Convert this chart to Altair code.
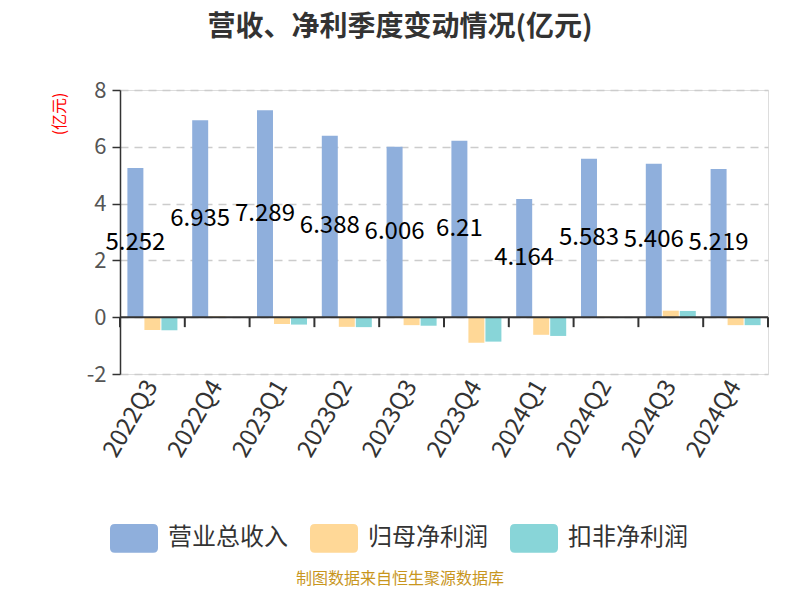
import altair as alt
import pandas as pd

quarters = ['2022Q3', '2022Q4', '2023Q1', '2023Q2', '2023Q3', '2023Q4',
            '2024Q1', '2024Q2', '2024Q3', '2024Q4']
revenue = [5.252, 6.935, 7.289, 6.388, 6.006, 6.21, 4.164, 5.583, 5.406, 5.219]
revenue_labels = ['5.252', '6.935', '7.289', '6.388', '6.006', '6.21', '4.164', '5.583', '5.406', '5.219']
net_profit = [-0.45, 0.03, -0.24, -0.34, -0.28, -0.90, -0.62, 0.02, 0.23, -0.28]
deducted_profit = [-0.46, -0.02, -0.26, -0.35, -0.30, -0.86, -0.66, -0.03, 0.22, -0.28]
series_names = ['营业总收入', '归母净利润', '扣非净利润']
series_colors = ['#8FAFDC', '#FFD897', '#88D5D8']

rows = []
for i, q in enumerate(quarters):
    rows.append({'quarter': q, 'series': series_names[0], 'value': revenue[i]})
    rows.append({'quarter': q, 'series': series_names[1], 'value': net_profit[i]})
    rows.append({'quarter': q, 'series': series_names[2], 'value': deducted_profit[i]})
df = pd.DataFrame(rows)

lab_df = pd.DataFrame({'quarter': quarters, 'series': series_names[0],
                       'value': revenue, 'label': revenue_labels})
lab_df['half'] = lab_df['value'] / 2

FONT = 'Noto Sans CJK SC'
W, H = 648, 284

xscale = alt.Scale(domain=quarters, paddingInner=0, paddingOuter=0)
xoff = alt.XOffset('series:N', sort=series_names,
                   scale=alt.Scale(domain=series_names, paddingInner=0.06, paddingOuter=0.435))
yscale = alt.Scale(domain=[-2, 8], nice=False)

rounded = ("M-0.8,-0.6 L0.8,-0.6 Q1,-0.6 1,-0.4 L1,0.4 Q1,0.6 0.8,0.6 "
           "L-0.8,0.6 Q-1,0.6 -1,0.4 L-1,-0.4 Q-1,-0.6 -0.8,-0.6 Z")

bars = alt.Chart(df).mark_bar().encode(
    x=alt.X('quarter:N', scale=xscale, sort=quarters,
            axis=alt.Axis(title=None, labelAngle=-60, labelAlign='right', labelBaseline='middle',
                          labelFontSize=24, labelColor='#333333', labelPadding=8,
                          domain=False, ticks=False, labelFont=FONT)),
    xOffset=xoff,
    y=alt.Y('value:Q', scale=yscale,
            axis=alt.Axis(title='(亿元)', values=[-2, 0, 2, 4, 6, 8], titleColor='red',
                          labelExpr="'' + datum.value",
                          titleFontSize=16, titleFontWeight='normal', titleAngle=-90,
                          titleAlign='right', titleBaseline='middle', titleX=-61, titleY=2,
                          labelFontSize=22, labelColor='#555555', labelPadding=6,
                          tickSize=8, tickColor='#333333', tickWidth=1.5,
                          domainColor='#333333', domainWidth=1.5,
                          grid=True, gridDash=[8, 6], gridColor='#cccccc', gridWidth=1.5,
                          labelFont=FONT, titleFont=FONT)),
    color=alt.Color('series:N', sort=series_names,
                    scale=alt.Scale(domain=series_names, range=series_colors),
                    legend=alt.Legend(title=None, orient='none', direction='horizontal',
                                      legendX=-10, legendY=424, symbolType=rounded,
                                      symbolSize=2304, symbolStrokeWidth=0, symbolOpacity=1,
                                      labelFontSize=24, labelColor='#333333', labelFont=FONT,
                                      labelOffset=10, columnPadding=22))
)

labels = alt.Chart(lab_df).mark_text(fontSize=24, color='#000000', font=FONT).encode(
    x=alt.X('quarter:N', scale=xscale, sort=quarters),
    xOffset=xoff,
    y=alt.Y('half:Q', scale=yscale),
    text='label:N'
)

zero_line = alt.Chart(pd.DataFrame({'q': [0]})).mark_rule(color='#333333', strokeWidth=2).encode(
    y=alt.datum(0), x=alt.value(0), x2=alt.value(W)
)

ticks = alt.Chart(pd.DataFrame({'quarter': quarters})).mark_rule(color='#333333', strokeWidth=2).encode(
    x=alt.X('quarter:N', scale=xscale, sort=quarters, bandPosition=0),
    y=alt.datum(0), y2=alt.datum(-0.35)
)
end_tick = alt.Chart(pd.DataFrame({'q': [0]})).mark_rule(color='#333333', strokeWidth=2).encode(
    x=alt.value(W), y=alt.datum(0), y2=alt.datum(-0.35)
)

source = alt.Chart(pd.DataFrame({'t': ['制图数据来自恒生聚源数据库']})).mark_text(
    fontSize=16, color='#C8961E', font=FONT
).encode(x=alt.value(280), y=alt.value(489), text='t:N')

chart = alt.layer(bars, zero_line, ticks, end_tick, labels, source).properties(
    width=W, height=H,
    title=alt.TitleParams('营收、净利季度变动情况(亿元)', fontSize=28, fontWeight='bold',
                          color='#333333', font=FONT, anchor='middle', dx=-44, offset=37),
    autosize=alt.AutoSizeParams(type='none'),
    padding={'left': 112, 'top': 82, 'right': 24, 'bottom': 218}
).configure_view(stroke=None).configure(font=FONT)

chart.save("out.html", embed_options={"renderer": "svg", "actions": False})
